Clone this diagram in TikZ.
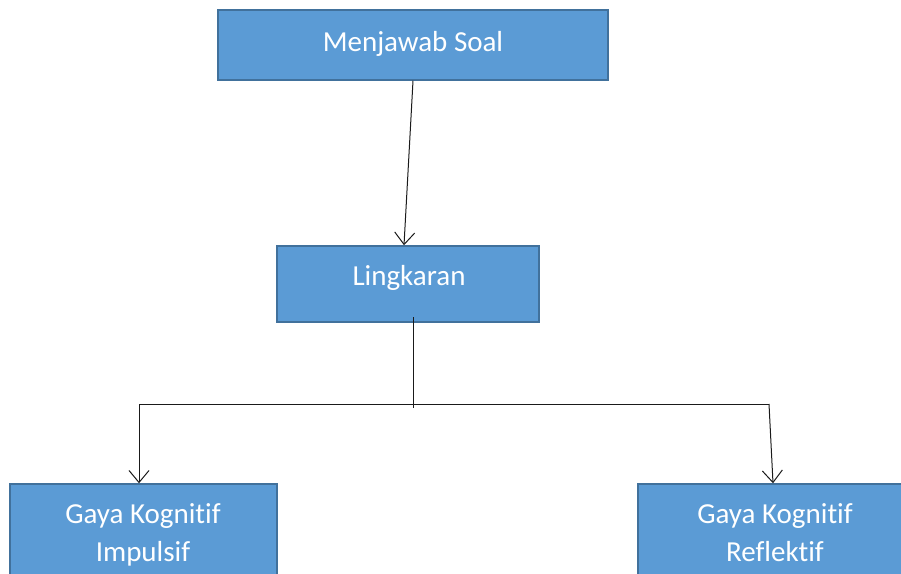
\documentclass[tikz,border=0pt]{standalone}
\usepackage{fontspec}
\setmainfont{Carlito}[RawFeature={-liga;-clig;-dlig}]
\usetikzlibrary{arrows.meta,calc}
\definecolor{boxfill}{HTML}{5B9BD5}
\definecolor{boxline}{HTML}{41719C}
\definecolor{conn}{HTML}{1A1A1A}
\tikzset{
  box/.style={draw=boxline,fill=boxfill,line width=1.5pt,minimum width=#1,inner sep=0pt},
  boxtext/.style={text=white,font=\fontsize{29}{39}\selectfont,anchor=base,inner sep=0pt,align=center},
  conn/.style={draw=conn,line width=1pt},
  arr/.style={conn,-{Straight Barb[length=12pt,width=20pt,line width=1pt]}}
}
\begin{document}
\begin{tikzpicture}[x=1pt,y=-1pt]
\useasboundingbox (0,0) rectangle (901,573);
% boxes
\node[box=390pt,minimum height=70pt] (top) at (413,45) {};
\node[box=262pt,minimum height=76pt] (mid) at (408,284) {};
\node[box=267pt,minimum height=100pt] (left) at (143.5,534) {};
\node[box=274pt,minimum height=100pt] (right) at (775,534) {};
% texts
\node[boxtext] (t1) at (413,51) {Menjawab Soal};
\node[boxtext] (t2) at (409,285) {Lingkaran};
\node[boxtext] (t3) at (143,523) {Gaya Kognitif};
\node[boxtext] (t3b) at (143,561) {Impulsif};
\node[boxtext] (t4) at (775,523) {Gaya Kognitif};
\node[boxtext] (t4b) at (775,561) {Reflektif};
% connectors
\coordinate (midin) at (413,317);
\coordinate (j) at (413,408);
\coordinate (hl) at (139,404);
\coordinate (hr) at (769,404);
\draw[arr] (top.south) -- ($(mid.north)+(-4,0)$);
\draw[conn] (midin) -- (j);
\draw[conn] (hl) -- (hr);
\draw[arr] (hl) -- (hl |- left.north);
\draw[arr] (hr) -- ($(hr |- right.north)+(4,0)$);
\end{tikzpicture}
\end{document}
